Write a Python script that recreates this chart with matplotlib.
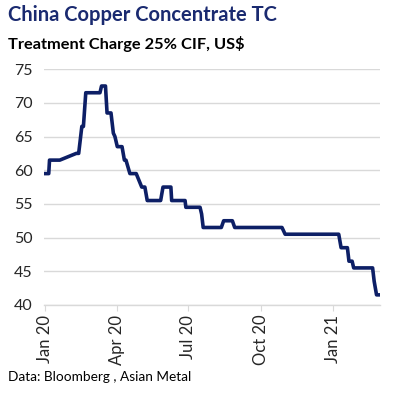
import matplotlib
matplotlib.use("Agg")
import matplotlib.pyplot as plt
import pandas as pd

# vertices of the TC line
dates = [
    "2020-01-01", "2020-01-06", "2020-01-07", "2020-01-20", "2020-02-10",
    "2020-02-13", "2020-02-17", "2020-02-19", "2020-02-22", "2020-03-11",
    "2020-03-13", "2020-03-18", "2020-03-20", "2020-03-25", "2020-03-28",
    "2020-03-30", "2020-04-02", "2020-04-08", "2020-04-11", "2020-04-13",
    "2020-04-18", "2020-04-26", "2020-05-03", "2020-05-07", "2020-05-10",
    "2020-05-27", "2020-05-30", "2020-06-09", "2020-06-10", "2020-06-27",
    "2020-06-28", "2020-07-16", "2020-07-18", "2020-07-20", "2020-08-12",
    "2020-08-15", "2020-08-26", "2020-08-29", "2020-10-28", "2020-11-01",
    "2021-01-08", "2021-01-11", "2021-01-19", "2021-01-21", "2021-01-25",
    "2021-01-27", "2021-02-20", "2021-02-22", "2021-02-25", "2021-03-01",
]
tc = [
    59.5, 59.5, 61.5, 61.5, 62.5,
    62.5, 66.5, 66.5, 71.5, 71.5,
    72.5, 72.5, 68.5, 68.5, 65.5,
    65.0, 63.5, 63.5, 61.5, 61.5,
    59.5, 59.5, 57.5, 57.5, 55.5,
    55.5, 57.5, 57.5, 55.5, 55.5,
    54.5, 54.5, 53.5, 51.5, 51.5,
    52.5, 52.5, 51.5, 51.5, 50.5,
    50.5, 48.5, 48.5, 46.5, 46.5,
    45.5, 45.5, 43.5, 41.5, 41.5,
]
tick_dates = ["2020-01-01", "2020-04-01", "2020-07-01", "2020-10-01", "2021-01-01"]
tick_labels = ["Jan 20", "Apr 20", "Jul 20", "Oct 20", "Jan 21"]

plt.rcParams["font.family"] = ["Lato", "DejaVu Sans"]

C_LINE = "#0D1F66"
C_TITLE = "#1A2A70"
C_GRID = "#D9D9D9"

fig = plt.figure(figsize=(3.94, 3.93), dpi=100)
ax = fig.add_axes([0.1117, 0.224, 0.852, 0.6])

x = pd.to_datetime(dates)
ax.plot(x, tc, color=C_LINE, lw=2.6, solid_joinstyle="round", zorder=3)

ax.set_ylim(40, 75)
ax.set_yticks(range(40, 80, 5))
ax.set_xlim(pd.Timestamp("2019-12-31"), pd.Timestamp("2021-03-01"))
ax.set_xticks(pd.to_datetime(tick_dates))
ax.set_xticklabels(tick_labels, rotation=90)

ax.grid(axis="y", color=C_GRID, lw=1.0, zorder=0)
for s in ["top", "right", "left"]:
    ax.spines[s].set_visible(False)
ax.spines["bottom"].set_color(C_GRID)
ax.spines["bottom"].set_linewidth(1.0)
ax.tick_params(axis="y", length=0, labelsize=11.5, pad=8, labelcolor="#262626")
ax.tick_params(axis="x", length=4, color=C_GRID, labelsize=12, pad=3, labelcolor="#262626")

fig.text(0.02, 0.962, "China Copper Concentrate TC", fontsize=14.5,
         fontweight="bold", color=C_TITLE, va="center", ha="left")
fig.text(0.02, 0.888, "Treatment Charge 25% CIF, US$", fontsize=11.8,
         fontweight="bold", color="black", va="center", ha="left")
fig.text(0.02, 0.04, "Data: Bloomberg , Asian Metal", fontsize=9.8,
         color="black", va="center", ha="left")

fig.savefig("out.png", dpi=100, facecolor="white")
